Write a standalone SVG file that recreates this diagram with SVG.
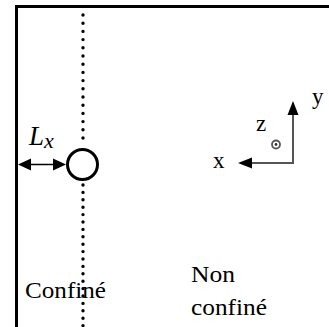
<svg xmlns="http://www.w3.org/2000/svg" width="329" height="327" viewBox="0 0 329 327">
<style>
text{font-family:'Liberation Serif','DejaVu Serif','Times New Roman',serif;fill:#000}
.ax{stroke:#555;stroke-width:2;fill:none}
.dots{stroke:#000;stroke-width:3.4;stroke-linecap:round;fill:none}
.head{fill:#000}
</style>
<g id="frame">
<path d="M16.5,327 V6.5 H329" fill="none" stroke="#000" stroke-width="3"/>
</g>
<g id="boundary">
<line class="dots" x1="83" y1="15" x2="83" y2="146" stroke-dasharray="0 8.2"/>
<line class="dots" x1="83" y1="185" x2="83" y2="326" stroke-dasharray="0 7.4"/>
</g>
<g id="particle">
<circle cx="82.5" cy="164.5" r="15" fill="#fff" stroke="#000" stroke-width="3"/>
</g>
<g id="connectors">
<line x1="26" y1="164.5" x2="58" y2="164.5" stroke="#000" stroke-width="1.5"/>
<path class="head" d="M18,164.5 L31,158.5 L31,170.5 Z"/>
<path class="head" d="M66,164.5 L53,158.5 L53,170.5 Z"/>
<polyline class="ax" points="245,163 293,163 293,110"/>
</g>
<g id="axes">
<path class="head" d="M238,163 L252,157.5 L252,168.5 Z"/>
<path class="head" d="M293,101 L287.5,115 L298.5,115 Z"/>
<circle cx="276" cy="144.5" r="4" fill="none" stroke="#555" stroke-width="1.8"/>
<circle cx="276" cy="144.5" r="1.4" fill="#333"/>
<text x="213" y="168" font-size="23">x</text>
<text x="312" y="104" font-size="23">y</text>
<text x="256" y="131" font-size="23">z</text>
</g>
<g id="labels">
<text x="29" y="145" font-size="27" font-style="italic">L<tspan font-size="22" dy="3">x</tspan></text>
<text x="25" y="298" font-size="24" textLength="81" lengthAdjust="spacingAndGlyphs">Confiné</text>
<text x="191" y="282" font-size="24" textLength="44" lengthAdjust="spacingAndGlyphs">Non</text>
<text x="191" y="315" font-size="24" textLength="76" lengthAdjust="spacingAndGlyphs">confiné</text>
</g>
</svg>
